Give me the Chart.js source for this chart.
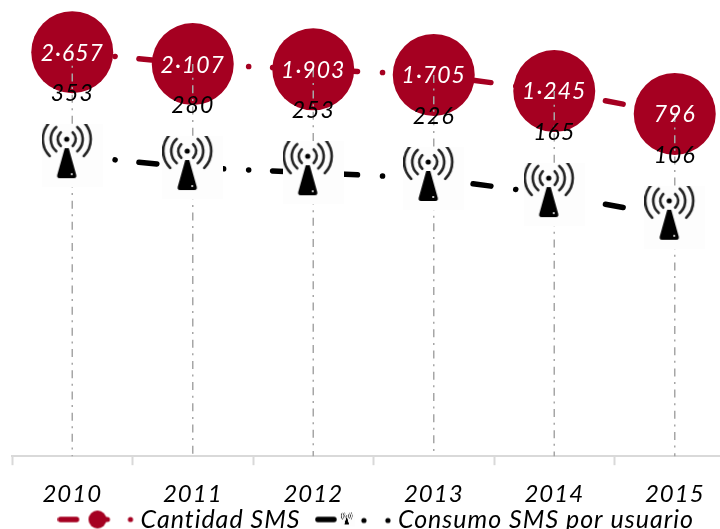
<!DOCTYPE html>
<html><head><meta charset="utf-8">
<style>html,body{margin:0;padding:0;background:#fff;overflow:hidden;width:720px;height:529px}
#w{position:absolute;left:0;top:0;width:764px;height:529px}</style>
<script src="https://cdn.jsdelivr.net/npm/chart.js@4"></script>
</head><body><div id="w"><canvas id="c" width="764" height="529"></canvas></div>
<script>
const years = ['2010','2011','2012','2013','2014','2015'];
const smsCount = [2657,2107,1903,1705,1245,796];
const smsPerUser = [353,280,253,226,165,106];
const seriesNames = ['Cantidad SMS','Consumo SMS por usuario'];
const RED='#A50021', FONT='Lato';
const lineDash=[18,25,0.1,23.9];

function towerIcon(scale){
  const c=document.createElement('canvas');c.width=61*scale;c.height=63*scale;
  const g=c.getContext('2d');g.scale(scale,scale);
  g.fillStyle='#fdfdfd';g.fillRect(0,0,61,63);
  const cx=25,cy=15;
  g.strokeStyle='#222';g.lineWidth=2.6;g.lineCap='round';
  [9,16,24].forEach(r=>{
    const a=r===24?0.78:0.85;
    g.beginPath();g.arc(cx,cy,r,-a,a);g.stroke();
    g.beginPath();g.arc(cx,cy,r,Math.PI-a,Math.PI+a);g.stroke();
  });
  g.fillStyle='#000';
  g.beginPath();g.arc(cx,cy,2.6,0,7);g.fill();
  g.beginPath();g.moveTo(cx-2,24);g.lineTo(cx+2,24);g.lineTo(cx+9,49);g.quadraticCurveTo(cx+11,54,cx+7,54);
  g.lineTo(cx-7,54);g.quadraticCurveTo(cx-11,54,cx-9,49);g.closePath();g.fill();
  g.fillStyle='#fff';g.beginPath();g.arc(30,50,1,0,7);g.fill();
  return c;
}
function legendSymbol(kind){
  const c=document.createElement('canvas');c.width=78;c.height=22;
  const g=c.getContext('2d');const col=kind===0?RED:'#000';
  g.strokeStyle=col;g.fillStyle=col;g.lineWidth=5.5;g.lineCap='round';
  g.beginPath();g.moveTo(3,11);g.lineTo(19,11);g.stroke();
  if(kind===0){
    g.beginPath();g.arc(40,11,9,0,7);g.fill();
    g.lineWidth=5;g.beginPath();g.moveTo(48,11);g.lineTo(50,11);g.stroke();
    g.beginPath();g.arc(73,11,2.6,0,7);g.fill();
  }else{
    const t=towerIcon(1);g.drawImage(t,26,4,14,14);
    g.beginPath();g.arc(49,12,2.6,0,7);g.fill();
    g.beginPath();g.arc(73,12,2.6,0,7);g.fill();
  }
  return c;
}
const fmt=v=>String(v).replace(/\B(?=(\d{3})+$)/,'\u00b7');
const overlay={
  id:'overlay',
  beforeUpdate(ch){ch.ctx.letterSpacing='1px';},
  afterLayout(ch){ch.legend.top-=39;ch.legend.left+=6;ch.legend.right+=6;},
  afterDatasetDraw(ch,args){
    if(args.index!==0)return;
    const {ctx,scales:{x,y}}=ch;
    ctx.save();ctx.strokeStyle='#a6a6a6';ctx.lineWidth=1.5;ctx.setLineDash([8,5.6,2,5.6]);
    smsCount.forEach((v,i)=>{
      const px=x.getPixelForValue(i);
      ctx.beginPath();ctx.moveTo(px,y.getPixelForValue(v));ctx.lineTo(px,y.bottom);ctx.stroke();
    });
    ctx.restore();
  },
  afterDatasetsDraw(ch){
    const {ctx}=ch;
    ctx.save();ctx.textAlign='center';ctx.textBaseline='middle';
    ctx.font='italic 400 23px '+FONT;
    ch.getDatasetMeta(0).data.forEach((p,i)=>{ctx.fillStyle='#fff';ctx.fillText(fmt(smsCount[i]),p.x,p.y+1);});
    ch.getDatasetMeta(1).data.forEach((p,i)=>{ctx.fillStyle='#000';ctx.fillText(fmt(smsPerUser[i]),p.x,p.y-62);});
    ctx.restore();
  }
};
new Chart(document.getElementById('c'),{
  type:'line',
  data:{labels:years,datasets:[
    {label:seriesNames[0],data:smsCount,order:2,borderColor:RED,backgroundColor:RED,borderWidth:5.5,borderCapStyle:'round',borderDash:lineDash,
     tension:0,fill:false,pointStyle:'circle',pointRadius:41,pointBorderWidth:0,pointBackgroundColor:RED,clip:false},
    {label:seriesNames[1],data:smsPerUser,order:1,borderColor:'#000',backgroundColor:'#000',borderWidth:5.5,borderCapStyle:'round',borderDash:lineDash,
     tension:0,fill:false,pointStyle:towerIcon(1),pointRadius:30,clip:false}
  ]},
  options:{
    responsive:false,animation:false,devicePixelRatio:1,
    layout:{autoPadding:false,padding:{left:12,right:29,top:0,bottom:-52}},
    events:[],
    scales:{
      y:{type:'logarithmic',display:false,min:1,max:7365},
      x:{offset:true,
        grid:{offset:true,drawOnChartArea:false,drawTicks:true,tickLength:9,tickColor:'#d9d9d9',tickWidth:2,color:'#d9d9d9'},
        border:{display:true,color:'#d9d9d9',width:2},
        ticks:{color:'#000',padding:15,maxRotation:0,autoSkip:false,font:{family:FONT,size:24,style:'italic',weight:'400'}}
      }
    },
    plugins:{
      tooltip:{enabled:false},
      legend:{position:'bottom',labels:{
        usePointStyle:true,pointStyleWidth:63,boxHeight:22,padding:22,color:'#000',
        font:{family:FONT,size:25,style:'italic',weight:'400'},
        generateLabels(ch){return ch.data.datasets.map((d,i)=>({text:d.label,fillStyle:d.borderColor,strokeStyle:d.borderColor,lineWidth:0,pointStyle:legendSymbol(i),datasetIndex:i,fontColor:'#000'}));}
      }}
    }
  },
  plugins:[overlay]
});
</script></body></html>
